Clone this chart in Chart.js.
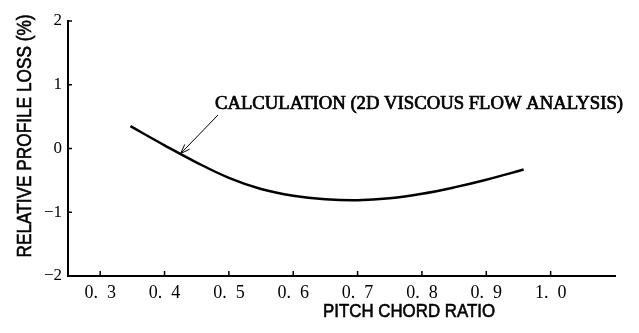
<!DOCTYPE html>
<html>
<head>
<meta charset="utf-8">
<script src="https://cdn.jsdelivr.net/npm/chart.js@4.4.1/dist/chart.umd.min.js"></script>
<style>
    html, body { margin: 0; padding: 0; background: #fff; }
    #contenedor { width: 639px; height: 333px; position: relative; }
</style>
</head>
<body>
<div id="contenedor"><canvas id="graficoPerdida"></canvas></div>
<script>
// Datos de la curva calculada (flujo viscoso 2D)
const relacionPaso = [0.347, 0.40, 0.45, 0.50, 0.55, 0.60, 0.65, 0.70, 0.75, 0.80, 0.85, 0.90, 0.958];
const perdidaRelativa = [0.35, 0.05, -0.22, -0.46, -0.635, -0.74, -0.795, -0.81, -0.78, -0.71, -0.61, -0.49, -0.33];

// Marcas de los ejes
const ticksX = [0.3, 0.4, 0.5, 0.6, 0.7, 0.8, 0.9, 1.0];
const ticksY = [-2, -1, 0, 1, 2];

// Textos
const TITULO_X = 'PITCH CHORD RATIO';
const TITULO_Y = 'RELATIVE PROFILE LOSS (%)';
const ETIQUETA_CURVA = 'CALCULATION (2D VISCOUS FLOW ANALYSIS)';
const PUNTO_FLECHA = { x: 0.425, y: -0.08 };

const FUENTE_SERIF = "'Liberation Serif', 'DejaVu Serif', serif";
const FUENTE_SANS = "'Liberation Sans', 'DejaVu Sans', sans-serif";

// Dibuja texto estirado/comprimido a un ancho fijo
function textoAjustado(ctx, texto, x, y, ancho, fuente, rotar, trazo) {
    ctx.save();
    ctx.font = fuente;
    ctx.fillStyle = '#000';
    ctx.strokeStyle = '#000';
    ctx.textAlign = 'center';
    ctx.textBaseline = 'middle';
    const w = ctx.measureText(texto).width;
    ctx.translate(x, y);
    if (rotar) ctx.rotate(-Math.PI / 2);
    ctx.scale(ancho / w, 1);
    ctx.fillText(texto, 0, 0);
    if (trazo) {
        ctx.lineWidth = trazo;
        ctx.strokeText(texto, 0, 0);
    }
    ctx.restore();
}

// Marcas hacia dentro, títulos y flecha de la anotación
const pluginDecoracion = {
    id: 'decoracion',
    afterDraw(chart) {
        const ctx = chart.ctx;
        const sx = chart.scales.x;
        const sy = chart.scales.y;
        const area = chart.chartArea;

        ctx.save();
        ctx.strokeStyle = '#000';
        ctx.lineWidth = 1.5;
        ctx.beginPath();
        ticksX.forEach(v => {
            const px = sx.getPixelForValue(v);
            ctx.moveTo(px, area.bottom);
            ctx.lineTo(px, area.bottom - 5);
        });
        ticksY.forEach(v => {
            const py = sy.getPixelForValue(v);
            ctx.moveTo(area.left, py);
            ctx.lineTo(area.left + 4, py);
        });
        ctx.stroke();
        ctx.restore();

        // Títulos de los ejes
        textoAjustado(ctx, TITULO_Y, 25, 136, 243, '20px ' + FUENTE_SANS, true, 0.6);
        textoAjustado(ctx, TITULO_X, 409, 312, 172, '19px ' + FUENTE_SANS, false, 0.6);

        // Etiqueta de la curva
        textoAjustado(ctx, ETIQUETA_CURVA, 419, 104, 408, '18px ' + FUENTE_SERIF, false, 0.7);

        // Flecha hacia la curva
        const x0 = 218, y0 = 115;
        const x1 = sx.getPixelForValue(PUNTO_FLECHA.x);
        const y1 = sy.getPixelForValue(PUNTO_FLECHA.y);
        const ang = Math.atan2(y1 - y0, x1 - x0);
        const largo = 10;
        ctx.save();
        ctx.strokeStyle = '#000';
        ctx.lineWidth = 1;
        ctx.beginPath();
        ctx.moveTo(x0, y0);
        ctx.lineTo(x1, y1);
        ctx.moveTo(x1 - largo * Math.cos(ang - 0.35), y1 - largo * Math.sin(ang - 0.35));
        ctx.lineTo(x1, y1);
        ctx.lineTo(x1 - largo * Math.cos(ang + 0.35), y1 - largo * Math.sin(ang + 0.35));
        ctx.stroke();
        ctx.restore();
    }
};

const ctx = document.getElementById('graficoPerdida').getContext('2d');

new Chart(ctx, {
    type: 'line',
    data: {
        datasets: [{
            label: 'Calculation',
            data: relacionPaso.map((x, i) => ({ x: x, y: perdidaRelativa[i] })),
            borderColor: '#000',
            borderWidth: 2.5,
            tension: 0.4,
            pointRadius: 0,
            fill: false
        }]
    },
    options: {
        responsive: true,
        maintainAspectRatio: false,
        animation: false,
        layout: {
            padding: { left: 0, right: 24, top: 21, bottom: 0 }
        },
        plugins: {
            legend: { display: false },
            tooltip: { enabled: false }
        },
        scales: {
            x: {
                type: 'linear',
                min: 0.25,
                max: 1.1,
                afterBuildTicks: scale => { scale.ticks = ticksX.map(v => ({ value: v })); },
                afterFit: scale => { scale.height = 57; },
                border: { color: '#000', width: 2 },
                grid: { display: false, drawTicks: false },
                ticks: {
                    color: '#000',
                    padding: 6,
                    maxRotation: 0,
                    font: { family: FUENTE_SERIF, size: 18 },
                    callback: v => v.toFixed(1).replace('.', '.  ')
                }
            },
            y: {
                min: -2,
                max: 2,
                afterBuildTicks: scale => { scale.ticks = ticksY.map(v => ({ value: v })); },
                afterFit: scale => { scale.width = 68; },
                border: { color: '#000', width: 2 },
                grid: { display: false, drawTicks: false },
                ticks: {
                    color: '#000',
                    padding: 6,
                    font: { family: FUENTE_SERIF, size: 17 },
                    callback: v => v < 0 ? '\u2212' + Math.abs(v) : String(v)
                }
            }
        }
    },
    plugins: [pluginDecoracion]
});
</script>
</body>
</html>
